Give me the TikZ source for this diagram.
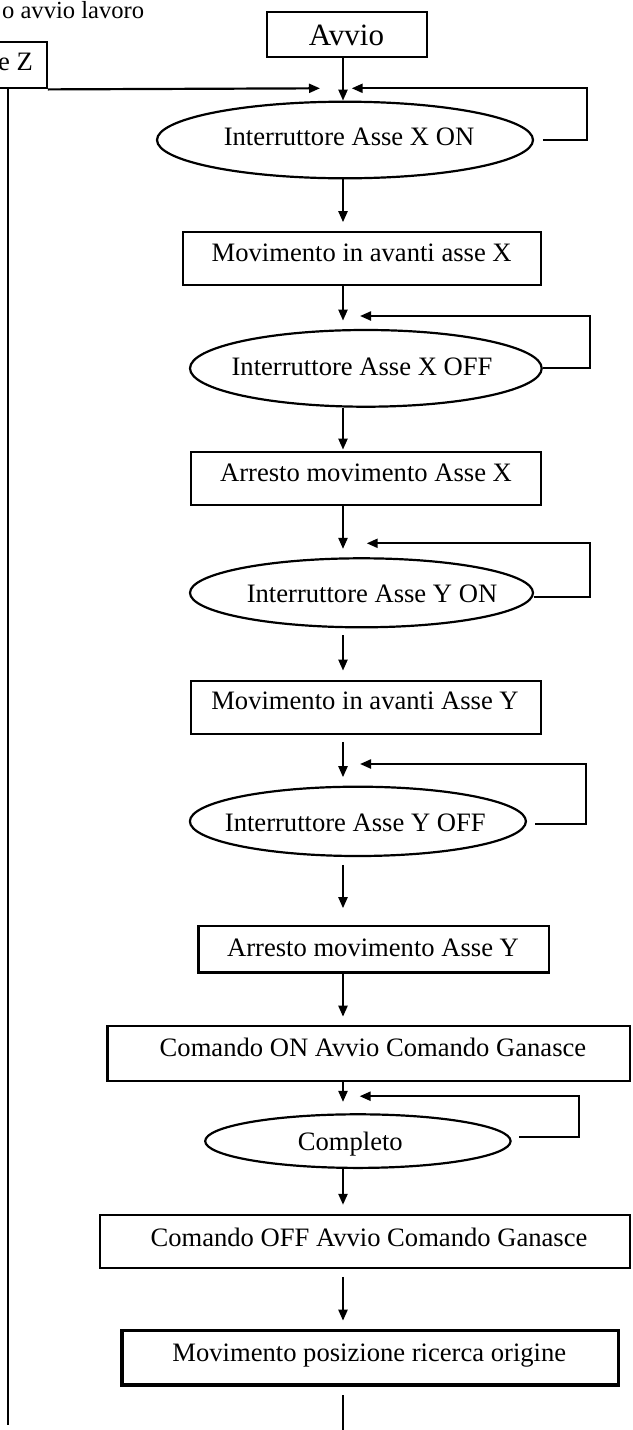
\documentclass[tikz,border=0pt]{standalone}
\usepackage{fontspec}
\setmainfont{Liberation Serif}
\usetikzlibrary{shapes.geometric,arrows.meta}
\begin{document}
\begin{tikzpicture}[x=1pt,y=-1pt,
  line width=2.2pt,
  box/.style={draw, rectangle, inner sep=0pt, line width=2.2pt},
  heavybox/.style={box, line width=3.2pt},
  oval/.style={draw, ellipse, inner sep=0pt, line width=2.2pt},
  lbl/.style={font=\fontsize{26.6}{32}\selectfont, inner sep=0pt, anchor=base},
  arr/.style={-{Triangle[length=11pt,width=9pt]}, line width=2.2pt},
  link/.style={line width=2.2pt}]
\useasboundingbox (0,0) rectangle (632,1430);
\clip (0,0) rectangle (632,1430);

% heading and side box (cut by the page edge)
\node[lbl, anchor=base west, font=\fontsize{24.6}{30}\selectfont] (title) at (1,18) {o avvio lavoro};
\node[box, minimum width=100pt, minimum height=46.6pt] (ez) at (-3.3,65) {};
\node[lbl, anchor=base east] (ezt) at (34,70) {e Z};

% start box
\node[box, minimum width=160pt, minimum height=45pt] (avvio) at (346.7,34.2) {};
\node[lbl, font=\fontsize{31}{36}\selectfont] (avviot) at (346.4,45) {Avvio};

% decisions and actions
\node[oval, minimum width=376pt, minimum height=76.6pt] (e1) at (345,140) {};
\node[lbl] (e1t) at (349,145.7) {Interruttore Asse X ON};

\node[box, minimum width=358pt, minimum height=53.3pt] (b1) at (361.7,258.35) {};
\node[lbl] (b1t) at (361.7,261) {Movimento in avanti asse X};

\node[oval, minimum width=351.7pt, minimum height=76.7pt] (e2) at (365.85,368.35) {};
\node[lbl] (e2t) at (362,375) {Interruttore Asse X OFF};

\node[box, minimum width=350pt, minimum height=52.7pt] (b2) at (365.7,478.65) {};
\node[lbl] (b2t) at (366,481.7) {Arresto movimento Asse X};

\node[oval, minimum width=343pt, minimum height=69pt] (e3) at (361.5,592.8) {};
\node[lbl] (e3t) at (372,602) {Interruttore Asse Y ON};

\node[box, minimum width=350pt, minimum height=53.3pt] (b3) at (365.7,707.35) {};
\node[lbl] (b3t) at (365,709.3) {Movimento in avanti Asse Y};

\node[oval, minimum width=336pt, minimum height=69.3pt] (e4) at (357.9,821.35) {};
\node[lbl] (e4t) at (355.3,831.5) {Interruttore Asse Y OFF};

\node[box, minimum width=350.2pt, minimum height=46.8pt] (b4) at (373.5,949) {};
\node[lbl] (b4t) at (373,956) {Arresto movimento Asse Y};

\node[box, minimum width=522.5pt, minimum height=54.7pt] (b5) at (368.75,1053.65) {};
\node[lbl] (b5t) at (373,1056) {Comando ON Avvio Comando Ganasce};

\node[oval, minimum width=305.4pt, minimum height=53.6pt] (e5) at (357.9,1141.1) {};
\node[lbl] (e5t) at (350.3,1150) {Completo};

\node[box, minimum width=530pt, minimum height=53.3pt] (b6) at (365,1241.35) {};
\node[lbl] (b6t) at (369,1246) {Comando OFF Avvio Comando Ganasce};

\node[heavybox, minimum width=496.2pt, minimum height=54.3pt] (b7) at (370.1,1357.85) {};
\node[lbl] (b7t) at (369.3,1361.3) {Movimento posizione ricerca origine};

% main column
\coordinate (col) at (343,0);
\coordinate (bend) at (343,1434);
\draw[arr] (avvio.south -| col) -- (e1.north -| col);
\draw[arr, shorten >=8.4pt] (e1.south -| col) -- (b1.north -| col);
\draw[arr, shorten >=8.3pt] (b1.south -| col) -- (e2.north -| col);
\draw[arr, shorten >=1.6pt] (e2.south -| col) -- (b2.north -| col);
\draw[arr, shorten >=8.3pt] (b2.south -| col) -- (e3.north -| col);
\draw[arr, shorten <=6.7pt, shorten >=9pt] (e3.south -| col) -- (b3.north -| col);
\draw[arr, shorten <=6.7pt, shorten >=8.4pt] (b3.south -| col) -- (e4.north -| col);
\draw[arr, shorten <=7.8pt, shorten >=16.3pt] (e4.south -| col) -- (b4.north -| col);
\draw[arr, shorten >=8.5pt] (b4.south -| col) -- (b5.north -| col);
\draw[arr, shorten >=11.3pt] (b5.south -| col) -- (e5.north -| col);
\draw[arr, shorten >=8.8pt] (e5.south -| col) -- (b6.north -| col);
\draw[arr, shorten <=7.8pt, shorten >=8.4pt] (b6.south -| col) -- (b7.north -| col);
\draw[link, shorten <=8.5pt] (b7.south -| col) -- (bend);

% return path from the side box
\coordinate (in1) at (320,88.3);
\coordinate (lx) at (8.3,0);
\coordinate (lend) at (8.3,1425);
\draw[arr] (ez.south east) -- (in1);
\draw[link] (ez.south -| lx) -- (lend);

% wait loops back into each decision
\coordinate (k1) at (586.7,88.3);
\coordinate (t1) at (351.7,88.3);
\draw[arr] ([xshift=8.7pt]e1.east) -| (k1) -- (t1);

\coordinate (k2) at (590,316);
\coordinate (t2) at (360,316);
\draw[arr] (e2.east) -| (k2) -- (t2);

\coordinate (k3) at (590,543.3);
\coordinate (t3) at (366.7,543.3);
\draw[arr] ([yshift=-3.9pt]e3.east) -| (k3) -- (t3);

\coordinate (k4) at (585.9,764);
\coordinate (t4) at (360,764);
\draw[arr] ([xshift=8.4pt,yshift=-3pt]e4.east) -| (k4) -- (t4);

\coordinate (k5) at (579.1,1096.2);
\coordinate (t5) at (359.6,1096.2);
\draw[arr] ([xshift=7.4pt,yshift=4.5pt]e5.east) -| (k5) -- (t5);
\end{tikzpicture}
\end{document}
